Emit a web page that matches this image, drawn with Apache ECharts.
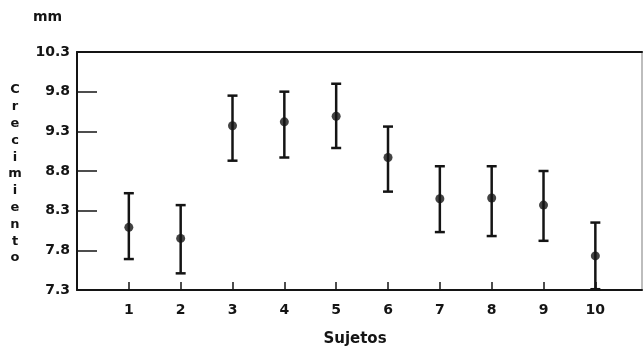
<!DOCTYPE html>
<html>
<head>
<meta charset="utf-8">
<script src="https://cdn.jsdelivr.net/npm/echarts@6/dist/echarts.min.js"></script>
<style>
  html, body { margin: 0; padding: 0; background: #fff; }
  #chart { width: 643px; height: 350px; }
</style>
</head>
<body>
<div id="chart"></div>
<script>
// Growth per subject: mean with upper / lower limits (mm)
var subjects = [1, 2, 3, 4, 5, 6, 7, 8, 9, 10];
var means = [8.09, 7.95, 9.37, 9.42, 9.49, 8.97, 8.45, 8.46, 8.37, 7.73];
var upper = [8.52, 8.37, 9.75, 9.80, 9.90, 9.36, 8.86, 8.86, 8.80, 8.15];
var lower = [7.69, 7.51, 8.93, 8.97, 9.09, 8.54, 8.03, 7.98, 7.92, 7.31];
var yTicks = [7.3, 7.8, 8.3, 8.8, 9.3, 9.8, 10.3];
var yAxisTitle = 'Crecimiento';
var yUnit = 'mm';
var xAxisTitle = 'Sujetos';

var ink = '#141414';
var font = 'DejaVu Sans';

var barData = subjects.map(function (s, i) { return [s, lower[i], upper[i]]; });
var pointData = subjects.map(function (s, i) { return [s, means[i]]; });

var chart = echarts.init(document.getElementById('chart'), null, { renderer: 'canvas' });

// bare frame axes (top / right) that carry only a line
function frameAxis(extra, color) {
  return Object.assign({
    type: 'value',
    splitLine: { show: false },
    axisTick: { show: false },
    axisLabel: { show: false },
    axisLine: { show: true, onZero: false, lineStyle: { color: color, width: 2 } }
  }, extra);
}

chart.setOption({
  backgroundColor: '#fff',
  animation: false,
  grid: { left: 77, right: 1, top: 52, bottom: 60 },
  xAxis: [
    {
      type: 'value',
      min: 0, max: 10.9,
      splitLine: { show: false },
      axisLine: { show: true, onZero: false, lineStyle: { color: ink, width: 2 } },
      axisTick: { show: true, inside: true, length: 8, lineStyle: { color: ink, width: 1.5 }, customValues: subjects },
      axisLabel: {
        customValues: subjects, margin: 13,
        color: ink, fontFamily: font, fontWeight: 'bold', fontSize: 14
      }
    },
    frameAxis({ position: 'top', min: 0, max: 10.9 }, ink)
  ],
  yAxis: [
    {
      type: 'value',
      min: yTicks[0], max: yTicks[yTicks.length - 1],
      splitLine: { show: false },
      axisLine: { show: true, onZero: false, lineStyle: { color: ink, width: 2 } },
      axisTick: { show: true, inside: true, length: 20, lineStyle: { color: ink, width: 1.5 }, customValues: yTicks },
      axisLabel: {
        customValues: yTicks, margin: 7,
        color: ink, fontFamily: font, fontWeight: 'bold', fontSize: 14,
        formatter: function (v) { return v.toFixed(1); }
      }
    },
    frameAxis({ position: 'right', min: yTicks[0], max: yTicks[yTicks.length - 1] }, '#bdbdbd')
  ],
  graphic: [
    {
      type: 'text', left: 33, top: 10,
      style: { text: yUnit, fill: ink, font: 'bold 14px "DejaVu Sans"' }
    },
    {
      type: 'text', x: 15, y: 174,
      style: {
        text: yAxisTitle.split('').join('\n'),
        fill: ink, font: 'bold 13px "DejaVu Sans"',
        align: 'center', verticalAlign: 'middle', lineHeight: 16.8
      }
    },
    {
      type: 'text', x: 355, y: 339,
      style: {
        text: xAxisTitle, fill: ink, font: 'bold 15px "DejaVu Sans"',
        align: 'center', verticalAlign: 'middle'
      }
    }
  ],
  series: [
    {
      type: 'custom',
      data: barData,
      clip: false,
      renderItem: function (params, api) {
        var x = api.value(0);
        var lo = api.coord([x, api.value(1)]);
        var hi = api.coord([x, api.value(2)]);
        var cap = 5;
        var style = { stroke: ink, lineWidth: 2.5, fill: null };
        return {
          type: 'group',
          children: [
            { type: 'line', shape: { x1: hi[0], y1: hi[1], x2: lo[0], y2: lo[1] }, style: style },
            { type: 'line', shape: { x1: hi[0] - cap, y1: hi[1], x2: hi[0] + cap, y2: hi[1] }, style: style },
            { type: 'line', shape: { x1: lo[0] - cap, y1: lo[1], x2: lo[0] + cap, y2: lo[1] }, style: style }
          ]
        };
      },
      z: 2
    },
    {
      type: 'scatter',
      data: pointData,
      symbol: 'circle',
      symbolSize: 9,
      itemStyle: { color: ink },
      z: 3
    }
  ]
});
</script>
</body>
</html>
